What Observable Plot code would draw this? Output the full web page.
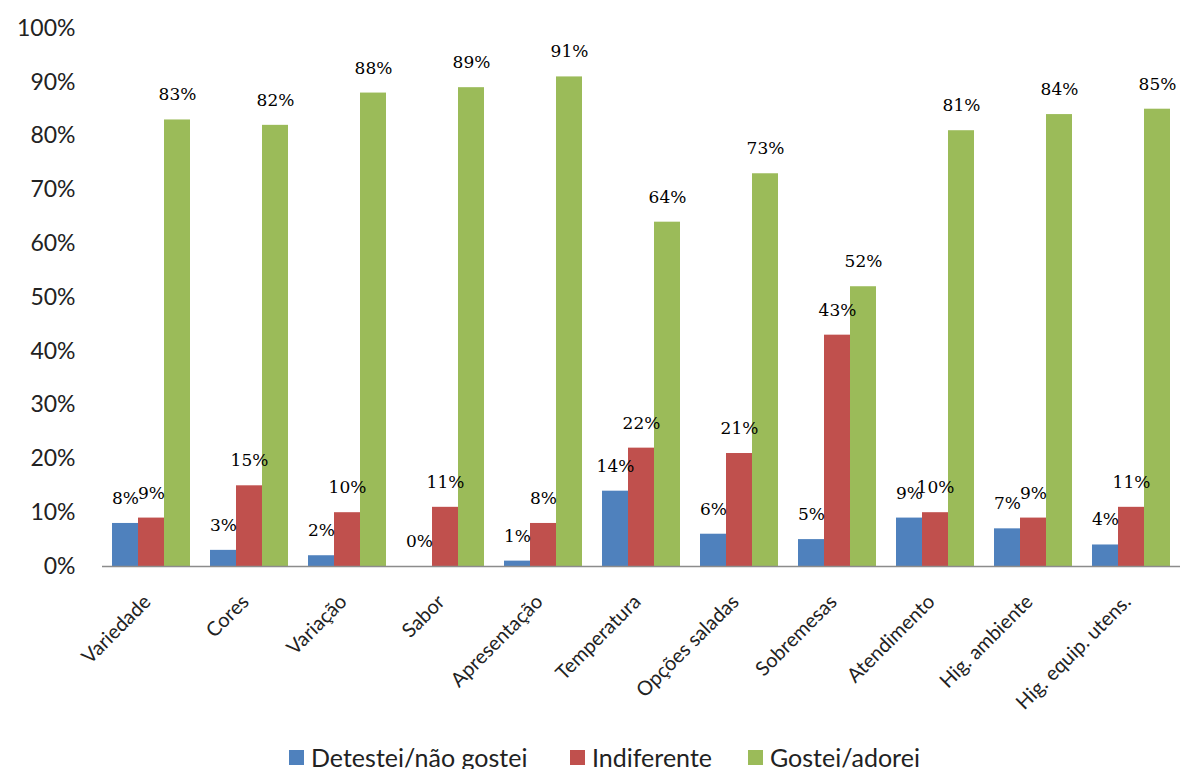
<!DOCTYPE html>
<html>
<head>
<meta charset="utf-8">
<script src="https://cdn.jsdelivr.net/npm/d3@7"></script>
<script src="https://cdn.jsdelivr.net/npm/@observablehq/plot@0.6"></script>
<style>
  html, body { margin: 0; padding: 0; background: #fff; overflow: hidden; }
  #legend { position: relative; height: 34px; font-family: Lato, sans-serif; font-size: 25px; color: #222; }
  .item { position: absolute; top: 0; display: flex; align-items: center; height: 34px; white-space: nowrap; }
  .sw { width: 15px; height: 15px; margin-right: 7px; display: inline-block; }
</style>
</head>
<body>
<div id="chart"></div>
<div id="legend"></div>
<script>
const categories = ["Variedade", "Cores", "Variação", "Sabor", "Apresentação", "Temperatura", "Opções saladas", "Sobremesas", "Atendimento", "Hig. ambiente", "Hig. equip. utens."];
const seriesNames = ["Detestei/não gostei", "Indiferente", "Gostei/adorei"];
const detestei = [8, 3, 2, 0, 1, 14, 6, 5, 9, 7, 4];
const indiferente = [9, 15, 10, 11, 8, 22, 21, 43, 10, 9, 11];
const gostei = [83, 82, 88, 89, 91, 64, 73, 52, 81, 84, 85];
const yTicks = [0, 10, 20, 30, 40, 50, 60, 70, 80, 90, 100];
const colors = ["#4F81BD", "#C0504D", "#9BBB59"];

const seriesValues = [detestei, indiferente, gostei];
const data = [];
categories.forEach((c, i) => {
  seriesNames.forEach((s, j) => data.push({category: c, series: s, value: seriesValues[j][i]}));
});

const plot = Plot.plot({
  width: 1184,
  height: 740,
  marginTop: 28,
  marginBottom: 174,
  marginLeft: 98,
  marginRight: 0,
  style: {background: "#fff"},
  fx: {domain: categories, padding: 0, label: null},
  x: {domain: seriesNames, paddingInner: 0, paddingOuter: 0.38, axis: null},
  y: {domain: [0, 100], label: null, axis: null},
  color: {domain: seriesNames, range: colors},
  marks: [
    Plot.barY(data, {fx: "category", x: "series", y: "value", fill: "series"}),
    Plot.ruleY([0], {stroke: "#8c8c8c", strokeWidth: 1.5}),
    Plot.text(data, {fx: "category", x: "series", y: "value", text: d => d.value + "%", dy: -25,
      fontFamily: "DejaVu Serif", fontSize: 17, fill: "#000", stroke: "none"}),
    Plot.axisY({ticks: yTicks, tickFormat: d => d + "%", tickSize: 0, tickPadding: 27, line: true,
      fontSize: 23, fontFamily: "Lato", stroke: "#8c8c8c", color: "#222"}),
    Plot.axisFx({anchor: "bottom", tickRotate: -45, tickSize: 0, tickPadding: 32, dx: -4, label: null,
      fontSize: 20, fontFamily: "Lato", color: "#222"})
  ]
});
document.getElementById("chart").appendChild(plot);

const legend = document.getElementById("legend");
const lefts = [289, 570, 748];
seriesNames.forEach((s, j) => {
  const it = document.createElement("div");
  it.className = "item";
  it.style.left = lefts[j] + "px";
  it.innerHTML = `<span class="sw" style="background:${colors[j]}"></span><span>${s}</span>`;
  legend.appendChild(it);
});
</script>
</body>
</html>
